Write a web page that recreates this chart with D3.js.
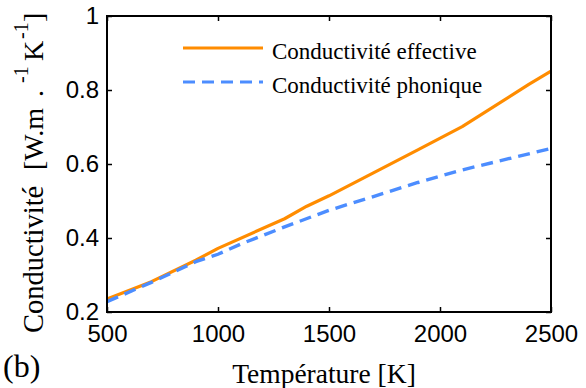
<!DOCTYPE html>
<html>
<head>
<meta charset="utf-8">
<script src="https://cdn.jsdelivr.net/npm/d3@7"></script>
<style>
  html, body { margin: 0; padding: 0; background: #fff; }
  svg { display: block; }
</style>
</head>
<body>
<div id="chart"></div>
<script>
// Data
const tempEff = [500, 700, 900, 1000, 1300, 1400, 1500, 1700, 1900, 2100, 2400, 2500];
const condEff = [0.235, 0.282, 0.340, 0.372, 0.452, 0.486, 0.514, 0.576, 0.638, 0.701, 0.815, 0.851];
const tempPho = [500, 700, 900, 1000, 1100, 1300, 1500, 1700, 1900, 2100, 2300, 2500];
const condPho = [0.228, 0.280, 0.336, 0.356, 0.383, 0.430, 0.475, 0.512, 0.550, 0.584, 0.613, 0.642];
const xTicks = [500, 1000, 1500, 2000, 2500];
const yTicks = [0.2, 0.4, 0.6, 0.8, 1];
const seriesNames = ["Conductivité effective", "Conductivité phonique"];

const W = 586, H = 388;
const m = { left: 107, right: 35, top: 16, bottom: 76 };
const svg = d3.select("#chart").append("svg").attr("width", W).attr("height", H);

const x = d3.scaleLinear().domain([500, 2500]).range([m.left, W - m.right]);
const y = d3.scaleLinear().domain([0.2, 1]).range([H - m.bottom, m.top]);

const sans = "'Liberation Sans', Arial, sans-serif";
const serif = "'Liberation Serif', 'Times New Roman', serif";

// Lines
const line = d3.line().x(d => x(d[0])).y(d => y(d[1]));
const effData = tempEff.map((t, i) => [t, condEff[i]]);
const phoData = tempPho.map((t, i) => [t, condPho[i]]);

const g = svg.append("g");
g.append("path").datum(effData).attr("d", line)
  .attr("fill", "none").attr("stroke", "#FF8C00").attr("stroke-width", 3.2)
  .attr("stroke-linejoin", "round");
g.append("path").datum(phoData).attr("d", line)
  .attr("fill", "none").attr("stroke", "#4C8DFF").attr("stroke-width", 3.4)
  .attr("stroke-dasharray", "12,7");

// Axes (inner ticks, mirrored box)
const tickLen = 5;
const axB = svg.append("g").attr("transform", `translate(0,${H - m.bottom})`)
  .call(d3.axisBottom(x).tickValues(xTicks).tickSizeInner(-tickLen).tickSizeOuter(0).tickPadding(13).tickFormat(d3.format("d")));
const axL = svg.append("g").attr("transform", `translate(${m.left},0)`)
  .call(d3.axisLeft(y).tickValues(yTicks).tickSizeInner(-tickLen).tickSizeOuter(0).tickPadding(8).tickFormat(d => d === 1 ? "1" : d3.format(".1f")(d)));
const axT = svg.append("g").attr("transform", `translate(0,${m.top})`)
  .call(d3.axisTop(x).tickValues(xTicks).tickSizeInner(-tickLen).tickSizeOuter(0).tickFormat(""));
const axR = svg.append("g").attr("transform", `translate(${W - m.right},0)`)
  .call(d3.axisRight(y).tickValues(yTicks).tickSizeInner(-tickLen).tickSizeOuter(0).tickFormat(""));

[axB, axL, axT, axR].forEach(a => {
  a.select(".domain").remove();
  a.selectAll(".tick line").attr("stroke", "#000").attr("stroke-width", 1.5);
  a.selectAll("text").style("font-family", sans).attr("font-size", 24).attr("fill", "#000");
});
axB.selectAll("text").attr("dy", "0.71em");

svg.append("rect")
  .attr("x", m.left).attr("y", m.top)
  .attr("width", W - m.left - m.right).attr("height", H - m.top - m.bottom)
  .attr("fill", "none").attr("stroke", "#000").attr("stroke-width", 2);

// Legend
const leg = svg.append("g");
const legY = [48, 82];
const legColors = ["#FF8C00", "#4C8DFF"];
seriesNames.forEach((name, i) => {
  leg.append("line").attr("x1", 183).attr("x2", 263).attr("y1", legY[i]).attr("y2", legY[i])
    .attr("stroke", legColors[i]).attr("stroke-width", 3.2)
    .attr("stroke-dasharray", i === 1 ? "12,7" : null);
  leg.append("text").attr("x", 272).attr("y", legY[i] + 11)
    .style("font-family", serif).attr("font-size", 23).attr("fill", "#000")
    .text(name);
});

// Axis titles
svg.append("text").attr("x", 324).attr("y", 383).attr("text-anchor", "middle")
  .style("font-family", serif).attr("font-size", 27.5).attr("fill", "#000")
  .text("Température [K]");

svg.append("text").attr("x", 3).attr("y", 377)
  .style("font-family", serif).attr("font-size", 32).attr("fill", "#000")
  .text("(b)");

const yt = svg.append("g").attr("transform", "translate(43,0) rotate(-90)")
  .style("font-family", serif).attr("fill", "#000");
const yPieces = [
  { t: "Conductivité", at: 333, size: 28.5, sup: false },
  { t: "[W.m", at: 170, size: 28, sup: false },
  { t: ".", at: 97, size: 28, sup: false },
  { t: "-1", at: 83, size: 20, sup: true },
  { t: "K", at: 61, size: 28, sup: false },
  { t: "-1", at: 39, size: 20, sup: true },
  { t: "]", at: 22, size: 28, sup: false }
];
yPieces.forEach(p => {
  yt.append("text").attr("x", -p.at).attr("y", p.sup ? -15 : 0)
    .attr("font-size", p.size)
    .text(p.t);
});
</script>
</body>
</html>
